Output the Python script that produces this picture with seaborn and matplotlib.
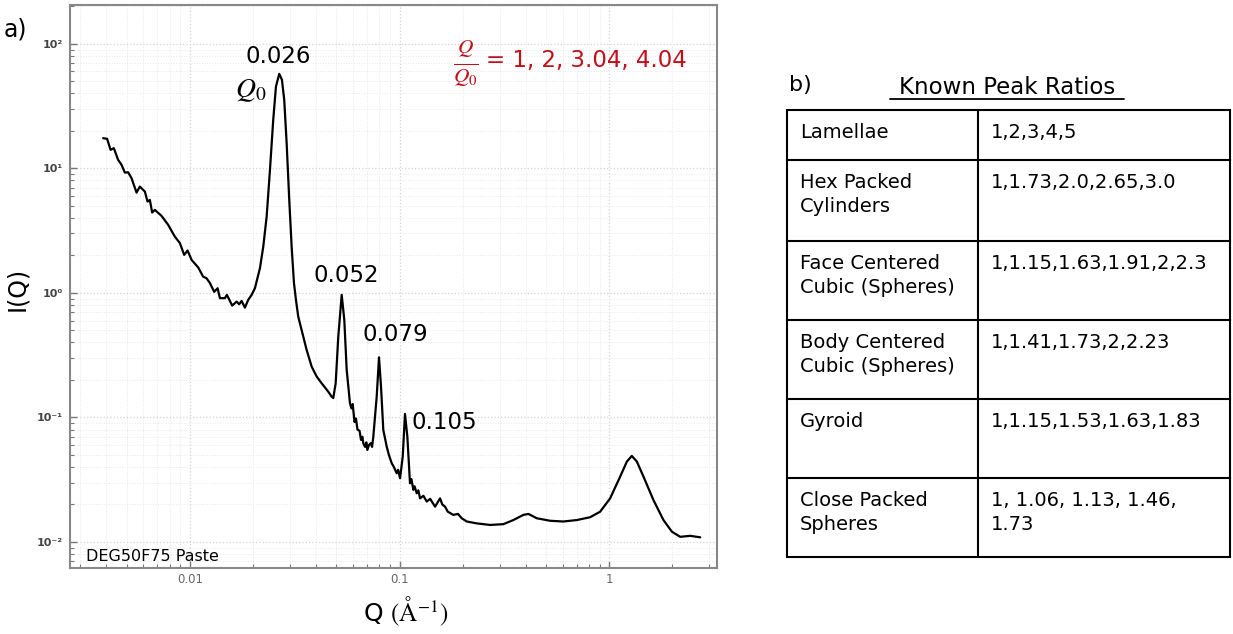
import numpy as np
import pandas as pd
import matplotlib
matplotlib.use("Agg")
import matplotlib.pyplot as plt
import matplotlib.ticker as mticker
import seaborn as sns

# ---------------- data ----------------
q_values = [0.003857, 0.004030, 0.004183, 0.004337, 0.004547, 0.004721, 0.004895, 0.005076,
            0.005268, 0.005566, 0.005772, 0.006098, 0.006282, 0.006443, 0.006607, 0.006806,
            0.007328, 0.007877, 0.008479, 0.008960, 0.009393, 0.009750, 0.01019, 0.01096,
            0.01157, 0.01201, 0.01246, 0.01306, 0.01356, 0.01391, 0.01469, 0.01502,
            0.01592, 0.01671, 0.01719, 0.01765, 0.01830, 0.01898, 0.01970, 0.02043,
            0.02159, 0.02239, 0.02324, 0.02410, 0.02498, 0.02574, 0.02669, 0.02749,
            0.02819, 0.02895, 0.02979, 0.03058, 0.03137, 0.03206, 0.03288, 0.03413,
            0.03606, 0.03810, 0.04026, 0.04253, 0.04571, 0.04746, 0.04831, 0.04960,
            0.05105, 0.05299, 0.05453, 0.05598, 0.05804, 0.05900, 0.05980, 0.06100,
            0.06200, 0.06300, 0.06450, 0.06550, 0.06650, 0.06718, 0.06850, 0.06950,
            0.07022, 0.07150, 0.07289, 0.07400, 0.07500, 0.07784, 0.07983, 0.08161,
            0.08370, 0.08689, 0.08900, 0.09179, 0.09400, 0.09697, 0.09850, 0.1006,
            0.1036, 0.1062, 0.1090, 0.1122, 0.1140, 0.1164, 0.1180, 0.1208,
            0.1230, 0.1253, 0.1300, 0.1349, 0.1400, 0.1478, 0.1561, 0.1600,
            0.1649, 0.1700, 0.1806, 0.1900, 0.1981, 0.2094, 0.2336, 0.2704,
            0.3130, 0.3494, 0.3899, 0.4120, 0.4518, 0.5228, 0.6052, 0.7013,
            0.8115, 0.9058, 1.011, 1.129, 1.215, 1.283, 1.356, 1.458,
            1.627, 1.816, 1.992, 2.182, 2.436, 2.719]
intensity = [17.48, 17.26, 14.09, 14.53, 11.70, 10.67, 9.25, 9.30,
             8.34, 6.39, 7.14, 6.51, 5.41, 5.58, 4.42, 4.64,
             4.15, 3.52, 2.83, 2.51, 2.02, 2.19, 1.84, 1.60,
             1.35, 1.31, 1.20, 1.02, 1.09, 0.907, 0.907, 0.964,
             0.791, 0.851, 0.811, 0.862, 0.762, 0.879, 0.964, 1.09,
             1.58, 2.35, 4.10, 9.73, 24.5, 45.4, 57.4, 51.4,
             35.5, 15.9, 5.58, 2.35, 1.20, 0.879, 0.645, 0.504,
             0.348, 0.256, 0.213, 0.188, 0.161, 0.147, 0.143, 0.188,
             0.446, 0.964, 0.607, 0.241, 0.130, 0.118, 0.128, 0.092,
             0.098, 0.080, 0.078, 0.066, 0.070, 0.0621, 0.058, 0.063,
             0.0548, 0.060, 0.0621, 0.058, 0.0701, 0.147, 0.304, 0.177,
             0.0793, 0.0583, 0.050, 0.0429, 0.040, 0.0356, 0.038, 0.0325,
             0.0484, 0.1067, 0.0701, 0.0296, 0.032, 0.0262, 0.028, 0.0246,
             0.026, 0.0224, 0.0235, 0.0211, 0.0222, 0.0192, 0.0224, 0.020,
             0.0192, 0.0175, 0.0165, 0.0168, 0.0155, 0.0146, 0.0141, 0.0137,
             0.0139, 0.0150, 0.0165, 0.0168, 0.0155, 0.0148, 0.0146, 0.0150,
             0.0158, 0.0175, 0.0224, 0.0335, 0.0442, 0.0491, 0.0442, 0.0335,
             0.0217, 0.0150, 0.0121, 0.0110, 0.0112, 0.0109]

peak_q = [0.026, 0.052, 0.079, 0.105]
peak_labels = ["0.026", "0.052", "0.079", "0.105"]
ratio_text = "= 1, 2, 3.04, 4.04"
sample_name = "DEG50F75 Paste"

x_ticks = [0.01, 0.1, 1]
x_tick_labels = ["0.01", "0.1", "1"]
y_ticks = [1e-2, 1e-1, 1e0, 1e1, 1e2]
y_tick_labels = ["10\u207b\u00b2", "10\u207b\u00b9", "10\u2070", "10\u00b9", "10\u00b2"]

table_title = "Known Peak Ratios"
structures = ["Lamellae", "Hex Packed\nCylinders", "Face Centered\nCubic (Spheres)",
              "Body Centered\nCubic (Spheres)", "Gyroid", "Close Packed\nSpheres"]
ratios = ["1,2,3,4,5", "1,1.73,2.0,2.65,3.0", "1,1.15,1.63,1.91,2,2.3",
          "1,1.41,1.73,2,2.23", "1,1.15,1.53,1.63,1.83", "1, 1.06, 1.13, 1.46,\n1.73"]

# ---------------- figure ----------------
sns.set_theme(style="white")
plt.rcParams["font.family"] = ["DejaVu Sans"]
plt.rcParams["mathtext.fontset"] = "stix"
plt.rcParams["text.color"] = "black"

W, H = 1233, 634
fig = plt.figure(figsize=(W / 100, H / 100), dpi=100)

def fx(px):
    return px / W

def fy(py):
    return 1 - py / H

ax = fig.add_axes([fx(70), fy(568), fx(717) - fx(70), fy(5) - fy(568)])
df = pd.DataFrame({"q": q_values, "I": intensity})
sns.lineplot(data=df, x="q", y="I", ax=ax, color="black", lw=1.6, sort=False, estimator=None)
ax.set_xscale("log")
ax.set_yscale("log")
ax.set_xlim(0.00268, 3.27)
ax.set_ylim(0.00618, 205)

ax.xaxis.set_major_locator(mticker.FixedLocator(x_ticks))
ax.xaxis.set_major_formatter(mticker.FixedFormatter(x_tick_labels))
ax.yaxis.set_major_locator(mticker.FixedLocator(y_ticks))
ax.yaxis.set_major_formatter(mticker.FixedFormatter(y_tick_labels))
ax.xaxis.set_minor_locator(mticker.LogLocator(base=10, subs=np.arange(2, 10)))
ax.yaxis.set_minor_locator(mticker.LogLocator(base=10, subs=np.arange(2, 10)))
ax.xaxis.set_minor_formatter(mticker.NullFormatter())
ax.yaxis.set_minor_formatter(mticker.NullFormatter())

ax.tick_params(axis="both", which="major", direction="in", length=5, width=1, color="#777777",
               labelcolor="#666666", labelsize=8.5)
ax.tick_params(axis="y", which="major", labelsize=8, labelcolor="#444444", pad=5)
for lab in ax.get_yticklabels():
    lab.set_fontweight("bold")
ax.tick_params(axis="both", which="minor", direction="in", length=3, width=0.8, color="#777777")
ax.tick_params(axis="x", which="both", top=False, bottom=True)
ax.tick_params(axis="y", which="both", left=True, right=False)

ax.grid(True, which="major", color="#d4d4d4", linestyle=":", linewidth=0.9)
ax.grid(True, which="minor", color="#e8e8e8", linestyle=":", linewidth=0.7)
for s in ax.spines.values():
    s.set_color("#888888")
    s.set_linewidth(1.5)

ax.set_xlabel("")
ax.set_ylabel("")

# peak labels
ax.text(0.0263, 78.6, peak_labels[0], ha="center", va="center", fontsize=16.5)
ax.text(0.01954, 42.7, r"$Q_0$", ha="center", va="center", fontsize=20)
ax.text(0.0555, 1.37, peak_labels[1], ha="center", va="center", fontsize=16.5)
ax.text(0.0952, 0.46, peak_labels[2], ha="center", va="center", fontsize=16.5)
ax.text(0.1147, 0.0903, peak_labels[3], ha="left", va="center", fontsize=16.5)
ax.text(0.0032, 0.0076, sample_name, ha="left", va="center", fontsize=11.5)

red = "#c0101a"
fig.text(fx(466), fy(63), r"$\frac{Q}{Q_0}$", ha="center", va="center", fontsize=22, color=red)
fig.text(fx(486), fy(61), ratio_text, ha="left", va="center", fontsize=16.5, color=red)

fig.text(fx(4), fy(30), "a)", ha="left", va="center", fontsize=17)
fig.text(fx(17), fy(289), "I(Q)", ha="center", va="center", fontsize=17, rotation=90)
fig.text(fx(406), fy(611), "Q " + r"$(\mathrm{\AA}^{-1})$", ha="center", va="center", fontsize=18)

# ---------------- table ----------------
fig.text(fx(789), fy(85), "b)", ha="left", va="center", fontsize=16)
fig.text(fx(1007), fy(88), table_title, ha="center", va="center", fontsize=16.5)
fig.add_artist(plt.Line2D([fx(890), fx(1124)], [fy(99), fy(99)], color="black", lw=1.3))

tax = fig.add_axes([fx(787), fy(557), fx(1230) - fx(787), fy(110) - fy(557)])
tax.set_xlim(0, 443)
tax.set_ylim(447, 0)
tax.axis("off")
row_heights = [50, 81, 79, 79, 79, 79]
col_split = 191
edges = np.concatenate([[0], np.cumsum(row_heights)])
for e in edges:
    tax.plot([0, 443], [e, e], color="black", lw=1.5, solid_capstyle="projecting", clip_on=False)
for xv in [0, col_split, 443]:
    tax.plot([xv, xv], [0, 447], color="black", lw=1.5, clip_on=False)
for i, (s, r) in enumerate(zip(structures, ratios)):
    top = edges[i] + 13
    tax.text(13, top, s, ha="left", va="top", fontsize=14, linespacing=1.35)
    tax.text(col_split + 13, top, r, ha="left", va="top", fontsize=14, linespacing=1.35)

fig.savefig("out.png", dpi=100)
